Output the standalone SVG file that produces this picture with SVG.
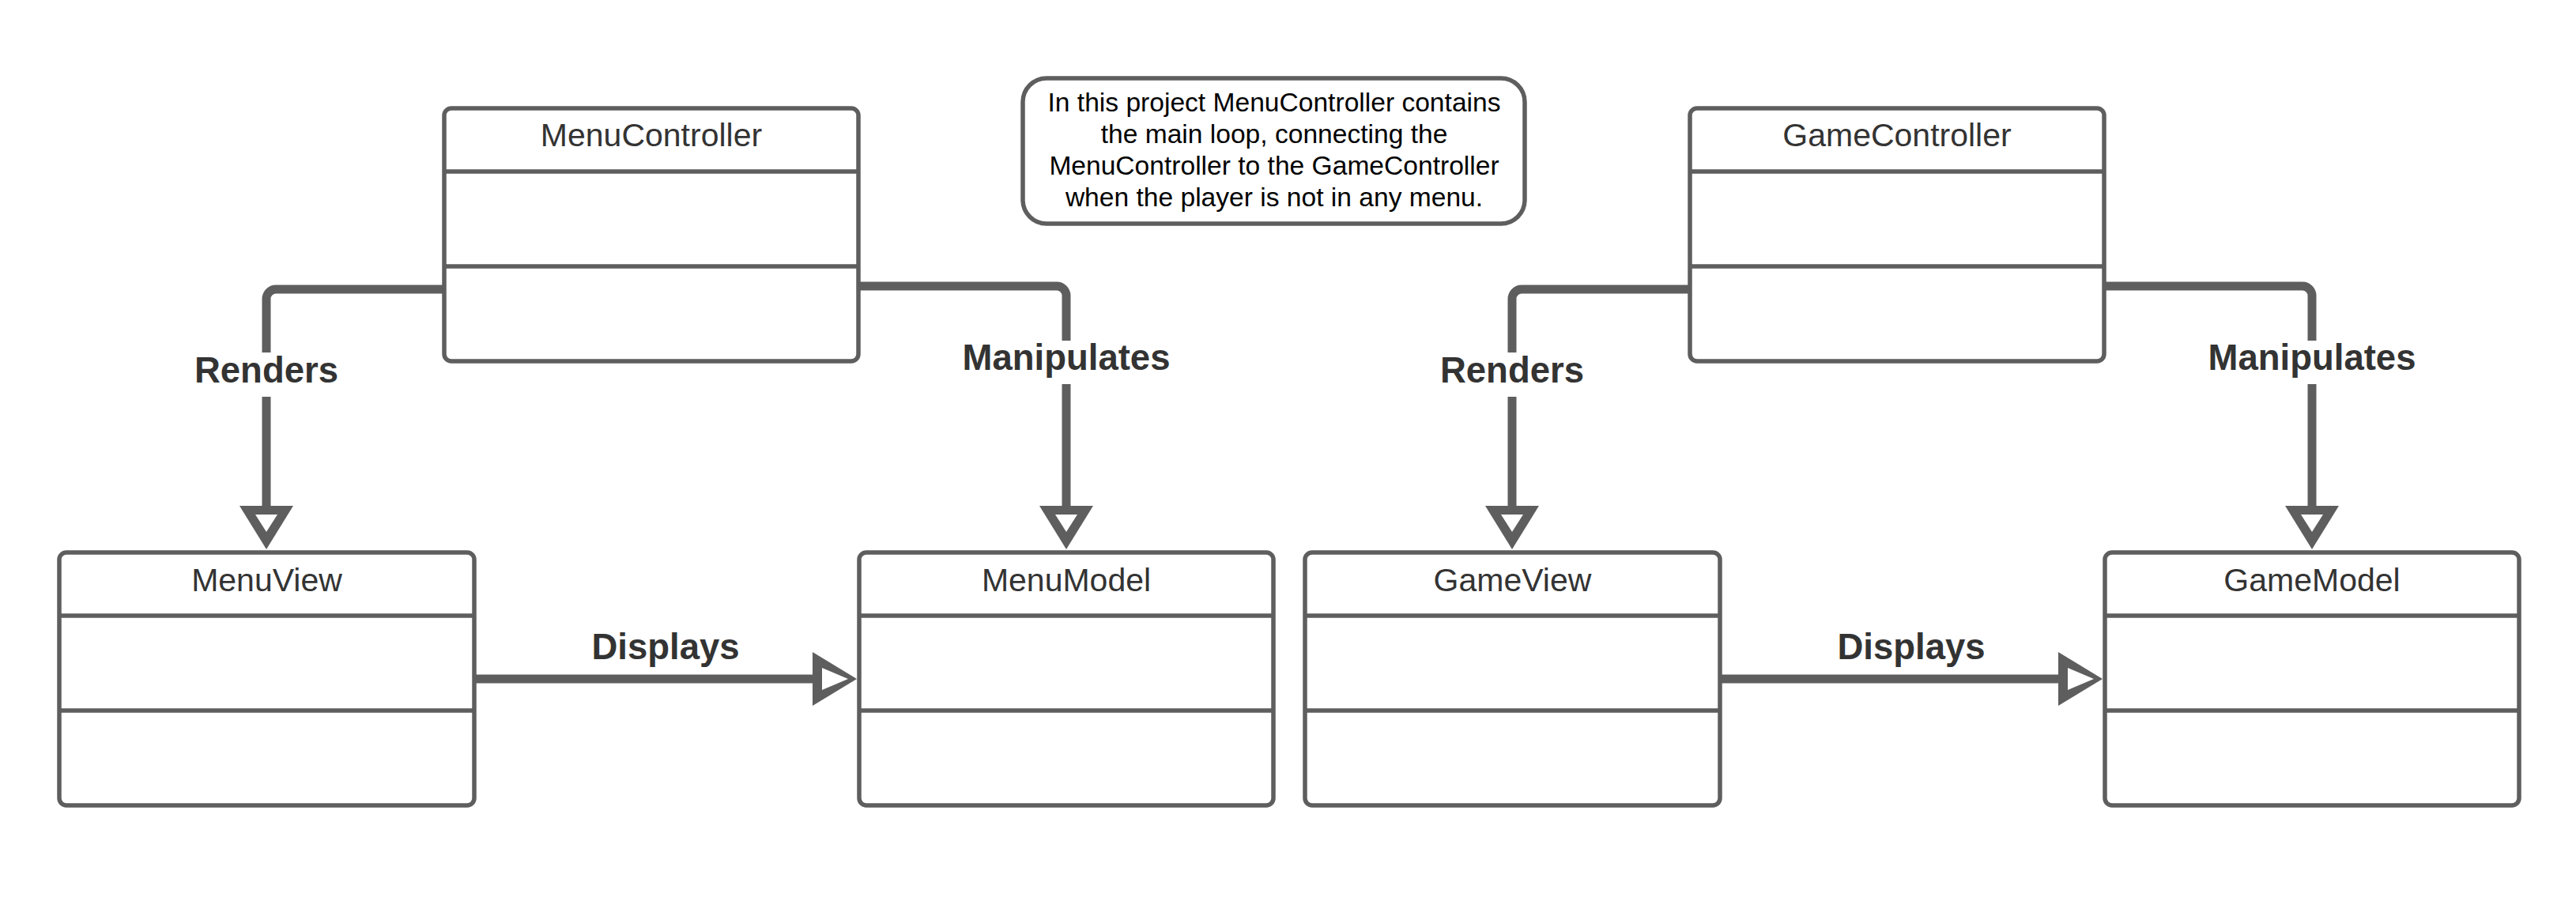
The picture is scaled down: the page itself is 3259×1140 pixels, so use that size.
<svg xmlns="http://www.w3.org/2000/svg" width="3259" height="1140" viewBox="0 0 3259 1140">
<style>
.box{fill:#ffffff;stroke:#5e5e5e;stroke-width:5.5}
.div{stroke:#5e5e5e;stroke-width:5.5;fill:none}
.title{font-family:"Liberation Sans",Arial,sans-serif;font-size:41px;fill:#333333;text-anchor:middle}
.lbl{font-family:"Liberation Sans",Arial,sans-serif;font-size:45.5px;font-weight:bold;fill:#333333;text-anchor:middle}
.note{font-family:"Liberation Sans",Arial,sans-serif;font-size:33.6px;fill:#000000;text-anchor:middle}
.line{fill:none;stroke:#5e5e5e;stroke-width:11}
.headO{fill:#5e5e5e}
.headI{fill:#ffffff}
</style>
<rect width="3259" height="1140" fill="#ffffff"/>
<g id="connectors">
  <!-- Menu side -->
  <path class="line" d="M560,366 H349 A12,12 0 0 0 337,378 V446 M337,502 V641"/>
  <polygon class="headO" points="303,640 371,640 337,695"/>
  <polygon class="headI" points="323,651 351,651 337,673"/>
  <text class="lbl" x="337" y="484">Renders</text>

  <path class="line" d="M1086,362 H1337 A12,12 0 0 1 1349,374 V431 M1349,486 V641"/>
  <polygon class="headO" points="1315,640 1383,640 1349,695"/>
  <polygon class="headI" points="1335,651 1363,651 1349,673"/>
  <text class="lbl" x="1349" y="468">Manipulates</text>

  <path class="line" d="M600,859 H1030"/>
  <polygon class="headO" points="1028,825 1028,893 1084,859"/>
  <polygon class="headI" points="1040,845 1040,873 1073,859"/>
  <text class="lbl" x="842" y="834">Displays</text>

  <!-- Game side -->
  <path class="line" d="M2136,366 H1925 A12,12 0 0 0 1913,378 V446 M1913,502 V641"/>
  <polygon class="headO" points="1879,640 1947,640 1913,695"/>
  <polygon class="headI" points="1899,651 1927,651 1913,673"/>
  <text class="lbl" x="1913" y="484">Renders</text>

  <path class="line" d="M2662,362 H2913 A12,12 0 0 1 2925,374 V431 M2925,486 V641"/>
  <polygon class="headO" points="2891,640 2959,640 2925,695"/>
  <polygon class="headI" points="2911,651 2939,651 2925,673"/>
  <text class="lbl" x="2925" y="468">Manipulates</text>

  <path class="line" d="M2176,859 H2606"/>
  <polygon class="headO" points="2604,825 2604,893 2660,859"/>
  <polygon class="headI" points="2616,845 2616,873 2649,859"/>
  <text class="lbl" x="2418" y="834">Displays</text>
</g>
<g id="MenuController">
  <rect class="box" x="562" y="137" width="524" height="320" rx="9"/>
  <path class="div" d="M562,217 H1086 M562,337 H1086"/>
  <text class="title" x="824" y="185">MenuController</text>
</g>
<g id="MenuView">
  <rect class="box" x="75" y="699" width="525" height="320" rx="9"/>
  <path class="div" d="M75,779 H600 M75,899 H600"/>
  <text class="title" x="337.5" y="748">MenuView</text>
</g>
<g id="MenuModel">
  <rect class="box" x="1087" y="699" width="524" height="320" rx="9"/>
  <path class="div" d="M1087,779 H1611 M1087,899 H1611"/>
  <text class="title" x="1349" y="748">MenuModel</text>
</g>
<g id="GameController">
  <rect class="box" x="2138" y="137" width="524" height="320" rx="9"/>
  <path class="div" d="M2138,217 H2662 M2138,337 H2662"/>
  <text class="title" x="2400" y="185">GameController</text>
</g>
<g id="GameView">
  <rect class="box" x="1651" y="699" width="525" height="320" rx="9"/>
  <path class="div" d="M1651,779 H2176 M1651,899 H2176"/>
  <text class="title" x="1913.5" y="748">GameView</text>
</g>
<g id="GameModel">
  <rect class="box" x="2663" y="699" width="524" height="320" rx="9"/>
  <path class="div" d="M2663,779 H3187 M2663,899 H3187"/>
  <text class="title" x="2925" y="748">GameModel</text>
</g>
<g id="Note">
  <rect class="box" x="1294" y="99" width="635" height="184" rx="30"/>
  <text class="note" x="1612" y="141">In this project MenuController contains</text>
  <text class="note" x="1612" y="181">the main loop, connecting the</text>
  <text class="note" x="1612" y="221">MenuController to the GameController</text>
  <text class="note" x="1612" y="261">when the player is not in any menu.</text>
</g>
</svg>
